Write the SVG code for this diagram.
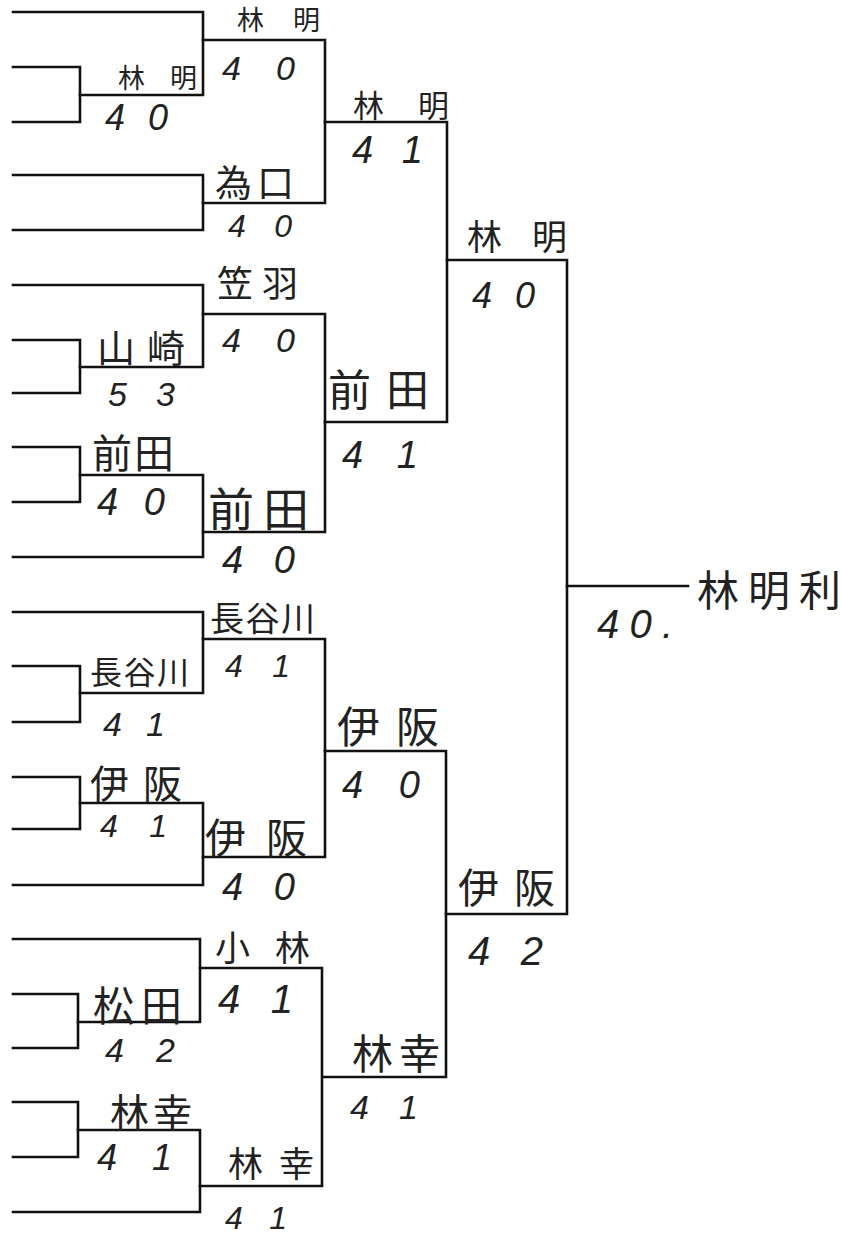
<svg xmlns="http://www.w3.org/2000/svg" width="841" height="1234" viewBox="0 0 841 1234">
<style>
.c{fill:none;stroke:#111;stroke-width:2.6;stroke-linejoin:miter;stroke-linecap:square}
.n{font-family:"Noto Sans CJK JP","Noto Sans CJK SC",sans-serif;fill:#222}
.s{font-family:"Liberation Sans",sans-serif;font-style:italic;fill:#222}
</style>
<rect width="841" height="1234" fill="#fff"/>
<g id="connectors" class="c">
<polyline points="13,12 203,12 203,95 80,95"/>
<polyline points="13,67 80,67 80,122 13,122"/>
<polyline points="203,40 325,40 325,203 203,203"/>
<polyline points="13,175 203,175 203,230 13,230"/>
<polyline points="325,122 447,122 447,422 325,422"/>
<polyline points="13,285 203,285 203,367 80,367"/>
<polyline points="13,340 80,340 80,393 13,393"/>
<polyline points="203,314 325,314 325,532 203,532"/>
<polyline points="13,447 80,447 80,502 13,502"/>
<polyline points="80,475 203,475 203,557 13,557"/>
<polyline points="447,260 567,260 567,914 446,914"/>
<polyline points="13,612 203,612 203,693 80,693"/>
<polyline points="13,666 80,666 80,722 13,722"/>
<polyline points="203,639 325,639 325,857 203,857"/>
<polyline points="13,777 80,777 80,829 13,829"/>
<polyline points="80,803 203,803 203,885 13,885"/>
<polyline points="325,751 446,751 446,1077 323,1077"/>
<polyline points="13,939 200,939 200,1022 78,1022"/>
<polyline points="13,994 78,994 78,1048 13,1048"/>
<polyline points="200,968 322,968 322,1186 200,1186"/>
<polyline points="13,1102 78,1102 78,1157 13,1157"/>
<polyline points="78,1130 200,1130 200,1212 13,1212"/>
<polyline points="567,586 688,586"/>
</g>
<g id="m1">
<text class="n" x="118" y="88" font-size="27" textLength="79" lengthAdjust="spacing">林明</text>
<text class="s" x="105" y="130" font-size="36" textLength="63" lengthAdjust="spacing">40</text>
</g>
<g id="m2">
<text class="n" x="237" y="30" font-size="27" textLength="83" lengthAdjust="spacing">林明</text>
<text class="s" x="222" y="80" font-size="34" textLength="73" lengthAdjust="spacing">40</text>
</g>
<g id="m3">
<text class="n" x="215" y="197" font-size="37" textLength="79" lengthAdjust="spacing">為口</text>
<text class="s" x="228" y="237" font-size="32" textLength="64" lengthAdjust="spacing">40</text>
</g>
<g id="m4">
<text class="n" x="217" y="297" font-size="36" textLength="81" lengthAdjust="spacing">笠羽</text>
<text class="s" x="222" y="352" font-size="34" textLength="73" lengthAdjust="spacing">40</text>
</g>
<g id="m5">
<text class="n" x="97" y="362" font-size="38" textLength="88" lengthAdjust="spacing">山崎</text>
<text class="s" x="108" y="406" font-size="34" textLength="67" lengthAdjust="spacing">53</text>
</g>
<g id="m6">
<text class="n" x="92" y="468" font-size="40" textLength="82" lengthAdjust="spacing">前田</text>
<text class="s" x="97" y="515" font-size="38" textLength="68" lengthAdjust="spacing">40</text>
</g>
<g id="m7">
<text class="n" x="208" y="526" font-size="46" textLength="101" lengthAdjust="spacing">前田</text>
<text class="s" x="222" y="573" font-size="38" textLength="73" lengthAdjust="spacing">40</text>
</g>
<g id="m8">
<text class="n" x="353" y="117" font-size="31" textLength="96" lengthAdjust="spacing">林明</text>
<text class="s" x="352" y="163" font-size="38" textLength="71" lengthAdjust="spacing">41</text>
</g>
<g id="m9">
<text class="n" x="328" y="406" font-size="43" textLength="101" lengthAdjust="spacing">前田</text>
<text class="s" x="342" y="468" font-size="38" textLength="76" lengthAdjust="spacing">41</text>
</g>
<g id="m10">
<text class="n" x="467" y="250" font-size="35" textLength="100" lengthAdjust="spacing">林明</text>
<text class="s" x="472" y="308" font-size="36" textLength="63" lengthAdjust="spacing">40</text>
</g>
<g id="m11">
<text class="n" x="210" y="631" font-size="34" textLength="105" lengthAdjust="spacing">長谷川</text>
<text class="s" x="225" y="677" font-size="32" textLength="65" lengthAdjust="spacing">41</text>
</g>
<g id="m12">
<text class="n" x="90" y="684" font-size="32" textLength="99" lengthAdjust="spacing">長谷川</text>
<text class="s" x="103" y="736" font-size="34" textLength="62" lengthAdjust="spacing">41</text>
</g>
<g id="m13">
<text class="n" x="90" y="798" font-size="39" textLength="92" lengthAdjust="spacing">伊阪</text>
<text class="s" x="100" y="837" font-size="32" textLength="67" lengthAdjust="spacing">41</text>
</g>
<g id="m14">
<text class="n" x="205" y="853" font-size="41" textLength="102" lengthAdjust="spacing">伊阪</text>
<text class="s" x="222" y="900" font-size="38" textLength="73" lengthAdjust="spacing">40</text>
</g>
<g id="m15">
<text class="n" x="337" y="743" font-size="43" textLength="102" lengthAdjust="spacing">伊阪</text>
<text class="s" x="342" y="798" font-size="38" textLength="78" lengthAdjust="spacing">40</text>
</g>
<g id="m16">
<text class="n" x="215" y="961" font-size="35" textLength="95" lengthAdjust="spacing">小林</text>
<text class="s" x="218" y="1013" font-size="40" textLength="75" lengthAdjust="spacing">41</text>
</g>
<g id="m17">
<text class="n" x="93" y="1021" font-size="41" textLength="89" lengthAdjust="spacing">松田</text>
<text class="s" x="105" y="1062" font-size="34" textLength="70" lengthAdjust="spacing">42</text>
</g>
<g id="m18">
<text class="n" x="110" y="1127" font-size="39" textLength="82" lengthAdjust="spacing">林幸</text>
<text class="s" x="97" y="1170" font-size="36" textLength="75" lengthAdjust="spacing">41</text>
</g>
<g id="m19">
<text class="n" x="228" y="1177" font-size="35" textLength="86" lengthAdjust="spacing">林幸</text>
<text class="s" x="225" y="1229" font-size="32" textLength="62" lengthAdjust="spacing">41</text>
</g>
<g id="m20">
<text class="n" x="352" y="1069" font-size="41" textLength="88" lengthAdjust="spacing">林幸</text>
<text class="s" x="350" y="1119" font-size="34" textLength="68" lengthAdjust="spacing">41</text>
</g>
<g id="m21">
<text class="n" x="458" y="903" font-size="41" textLength="97" lengthAdjust="spacing">伊阪</text>
<text class="s" x="468" y="965" font-size="40" textLength="75" lengthAdjust="spacing">42</text>
</g>
<g id="final">
<text class="s" x="597" y="638" font-size="40" textLength="76" lengthAdjust="spacing">40.</text>
<text class="n" x="697" y="606" font-size="42" textLength="144" lengthAdjust="spacing">林明利</text>
</g>
</svg>
